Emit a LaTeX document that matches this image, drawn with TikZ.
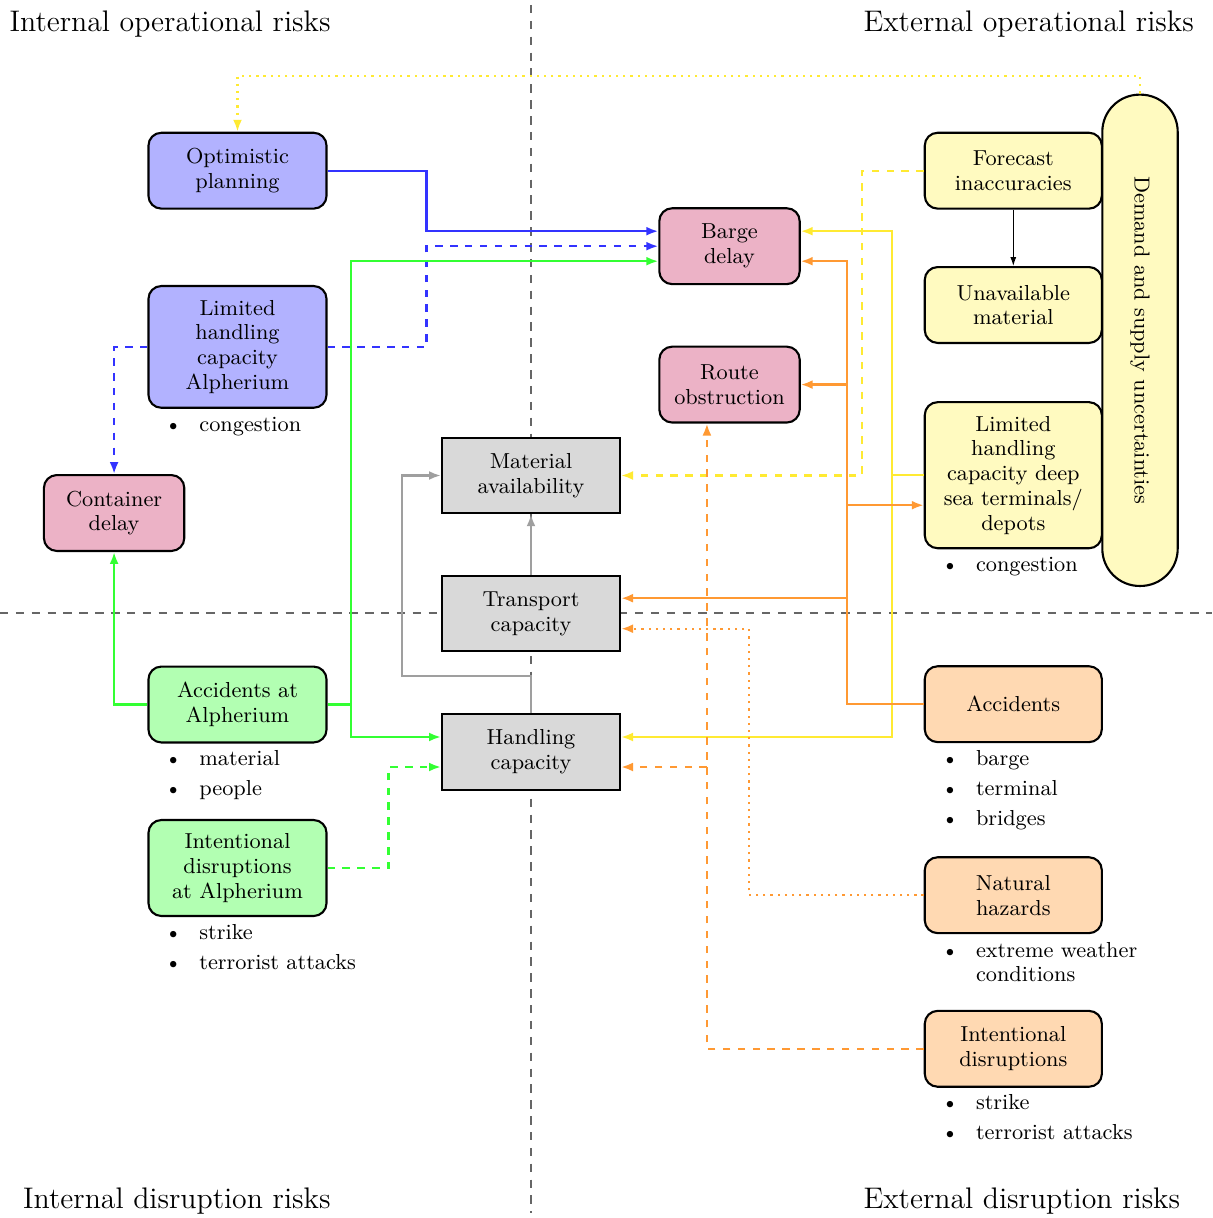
\documentclass[tikz,border=0pt]{standalone}
\usepackage{graphicx}
\usetikzlibrary{arrows.meta,calc}
\pgfdeclarelayer{background}
\pgfsetlayers{background,main}

\definecolor{fillyellow}{RGB}{255,250,192}
\definecolor{lineyellow}{RGB}{255,234,50}

\newcommand\nodefont{\fontsize{8.75}{10}\selectfont}
\newcommand\headfont{\fontsize{12}{14}\selectfont}
\newcommand\bul[1]{\llap{\textbullet\hspace{7pt}}#1}

\tikzset{
  box/.style={draw=black, line width=0.85pt, rounded corners=5.2pt, align=center,
    font=\nodefont, inner sep=1pt, minimum height=30.6pt},
  wide/.style={minimum width=71.8pt},
  narrow/.style={minimum width=56.6pt},
  riskin/.style={box, fill=blue!30, wide},
  effect/.style={box, fill=purple!30, narrow},
  accin/.style={box, fill=green!30, wide},
  riskex/.style={box, fill=fillyellow, minimum width=71.4pt},
  accex/.style={box, fill=orange!30, minimum width=71.4pt},
  factor/.style={draw=black, line width=0.85pt, fill=gray!30, align=center,
    font=\nodefont, inner sep=1pt, minimum width=71.8pt, minimum height=30.4pt},
  item/.style={anchor=base west, inner sep=0pt, font=\nodefont},
  head/.style={inner sep=0pt, font=\headfont},
  divider/.style={draw=black!60, line width=0.6pt, dash pattern=on 3.4pt off 3pt},
  conn/.style={line width=0.9pt, -{Latex[length=4.8pt,width=3.6pt]}},
  bline/.style={conn, draw=blue!80},
  gline/.style={conn, draw=green!80},
  grline/.style={conn, draw=gray!75},
  yline/.style={conn, draw=lineyellow},
  oline/.style={conn, draw=orange!80},
  kline/.style={line width=0.4pt, -{Latex[length=3.6pt,width=2.4pt]}},
}

\begin{document}
\begin{tikzpicture}[x=0.4032pt, y=-0.4032pt]
\useasboundingbox (0,0) rectangle (1212,1218);

% quadrant headings
\node[head, anchor=base east] (hio) at (331,31.5) {Internal operational risks};
\node[head, anchor=base west] (heo) at (863,31.5) {External operational risks};
\node[head, anchor=base east] (hid) at (331,1208) {Internal disruption risks};
\node[head, anchor=base west] (hed) at (863,1208) {External disruption risks};

% internal operational risks
\node[riskin] (opt) at (237.5,170.7) {Optimistic\\planning};
\node[riskin, minimum height=49.1pt] (lha) at (237.5,346.9) {Limited\\handling\\capacity\\Alpherium};
\node[item] (lhaA) at (198.9,431) {\bul{congestion}};
\node[effect] (cont) at (114.1,513) {Container\\delay};

% central factors
\node[factor] (mat) at (531,475.5) {Material\\availability};
\node[factor] (trans) at (531,613.7) {Transport\\capacity};
\node[factor] (hand) at (531,752) {Handling\\capacity};

% effects
\node[effect] (barge) at (729.5,246.2) {Barge\\delay};
\node[effect] (route) at (729.5,384.6) {Route\\obstruction};

% external operational risks
\node[riskex] (fc) at (1013.3,170.7) {Forecast\\inaccuracies};
\node[riskex] (ua) at (1013.3,305) {Unavailable\\material};
\node[riskex, minimum height=58.9pt] (deep) at (1013.3,475.2) {Limited\\handling\\capacity deep\\sea terminals/\\depots};
\node[item] (deepA) at (975.5,571) {\bul{congestion}};
\node[draw=black, line width=0.85pt, fill=fillyellow, rounded corners=15pt,
      minimum width=30.4pt, minimum height=198.1pt, inner sep=0pt] (pill) at (1140,340.3)
      {\rotatebox{-90}{\nodefont Demand and supply uncertainties}};

% internal disruption risks
\node[accin] (accA) at (237.5,704.5) {Accidents at\\Alpherium};
\node[item] (accA1) at (198.9,765.5) {\bul{material}};
\node[item] (accA2) at (198.9,795.5) {\bul{people}};
\node[accin, minimum height=38.7pt] (intA) at (237.5,868) {Intentional\\disruptions\\at Alpherium};
\node[item] (intA1) at (198.9,939) {\bul{strike}};
\node[item] (intA2) at (198.9,969) {\bul{terrorist attacks}};

% external disruption risks
\node[accex] (acc) at (1013.3,704.2) {Accidents};
\node[item] (acc1) at (975.5,765.5) {\bul{barge}};
\node[item] (acc2) at (975.5,795.5) {\bul{terminal}};
\node[item] (acc3) at (975.5,825.5) {\bul{bridges}};
\node[accex] (nat) at (1013.3,895.2) {Natural\\hazards};
\node[item] (nat1) at (975.5,957) {\bul{extreme weather}};
\node[item] (nat2) at (975.5,981.5) {conditions};
\node[accex] (intx) at (1013.3,1048.8) {Intentional\\disruptions};
\node[item] (intx1) at (975.5,1109.5) {\bul{strike}};
\node[item] (intx2) at (975.5,1139.5) {\bul{terrorist attacks}};

% quadrant dividers
\begin{pgfonlayer}{background}
  \draw[divider] (531,5) -- (531,1213);
  \draw[divider] (0,613) -- (1212,613);
\end{pgfonlayer}

% bends and ports
\coordinate (bx) at (426.5,0);
\coordinate (gx) at (350.7,0);
\coordinate (gdx) at (388.5,0);
\coordinate (gbend) at (402,676);
\coordinate (topy) at (0,76);
\coordinate (ydx) at (862,0);
\coordinate (yx) at (892.3,0);
\coordinate (ox) at (846.7,0);
\coordinate (odx) at (748.7,0);

\coordinate (bargeW1) at ([yshift=6.05pt]barge.west);
\coordinate (bargeW3) at ([yshift=-6.05pt]barge.west);
\coordinate (bargeE1) at ([yshift=6.05pt]barge.east);
\coordinate (bargeE3) at ([yshift=-6.05pt]barge.east);
\coordinate (handW1) at ([yshift=6.05pt]hand.west);
\coordinate (handW3) at ([yshift=-6.05pt]hand.west);
\coordinate (handE1) at ([yshift=6.05pt]hand.east);
\coordinate (handE3) at ([yshift=-6.05pt]hand.east);
\coordinate (transE1) at ([yshift=6.25pt]trans.east);
\coordinate (transE3) at ([yshift=-6.05pt]trans.east);
\coordinate (deepW3) at ([yshift=-12.1pt]deep.west);
\coordinate (routeS) at ([xshift=-9.1pt]route.south);

% internal links
\draw[bline] (opt.east) -| (bx |- bargeW1) -- (bargeW1);
\draw[bline, dashed] (lha.east) -| (bx |- barge.west) -- (barge.west);
\draw[bline, dashed] (lha.west) -| (cont.north);
\draw[gline] (accA.east) -| (gx |- bargeW3) -- (bargeW3);
\draw[gline] (accA.east) -| (gx |- handW1) -- (handW1);
\draw[gline] (accA.west) -| (cont.south);
\draw[gline, dashed] (intA.east) -| (gdx |- handW3) -- (handW3);
\draw[grline] (hand.north) |- (gbend) |- (mat.west);
\draw[grline] (trans.north) -- (mat.south);

% external operational links
\draw[yline, dotted] (pill.north) |- (opt.north |- topy) -- (opt.north);
\draw[yline, dashed] (fc.west) -| (ydx |- mat.east) -- (mat.east);
\draw[yline] (deep.west) -| (yx |- bargeE1) -- (bargeE1);
\draw[yline] (deep.west) -| (yx |- handE1) -- (handE1);
\draw[kline] (fc.south) -- (ua.north);

% external disruption links
\draw[oline] (acc.west) -| (ox |- bargeE3) -- (bargeE3);
\draw[oline] (ox |- route.east) -- (route.east);
\draw[oline] (ox |- deepW3) -- (deepW3);
\draw[oline] (ox |- transE1) -- (transE1);
\draw[oline, dotted] (nat.west) -| (odx |- transE3) -- (transE3);
\draw[oline, dashed] (intx.west) -| (routeS);
\draw[oline, dashed] (routeS |- handE3) -- (handE3);
\end{tikzpicture}
\end{document}
